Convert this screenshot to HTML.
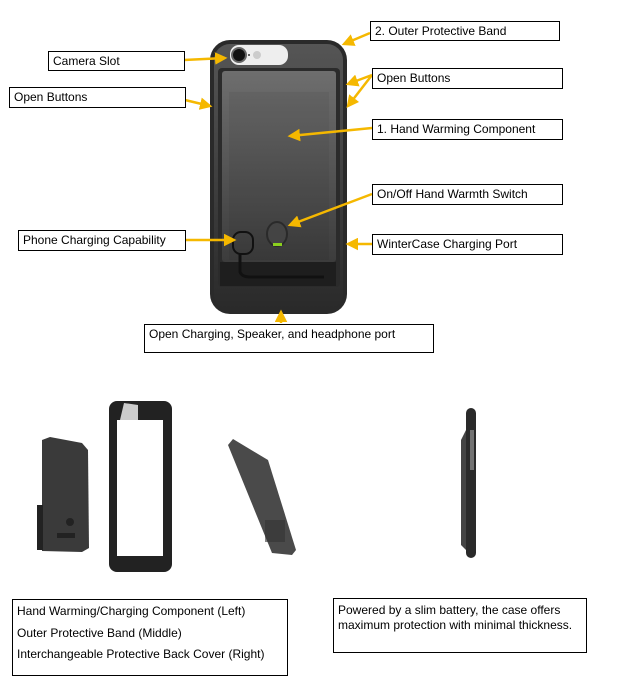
<!DOCTYPE html>
<html><head><meta charset="utf-8"><style>
html,body{margin:0;padding:0;background:#fff;}
body{width:620px;height:675px;position:relative;overflow:hidden;font-family:"Liberation Sans",Arial,sans-serif;font-size:12px;color:#000;}
.b{position:absolute;border:1px solid #000;background:#fff;box-sizing:border-box;padding:2px 4px;line-height:15px;white-space:nowrap;}
svg{position:absolute;left:0;top:0;}
</style></head><body>
<svg width="620" height="675" viewBox="0 0 620 675">
<defs>
<linearGradient id="g1" x1="0" y1="0" x2="0" y2="1"><stop offset="0" stop-color="#6e6e6e"/><stop offset="1" stop-color="#3c3c3c"/></linearGradient>
<linearGradient id="g3" x1="0" y1="0" x2="0" y2="1"><stop offset="0" stop-color="#555"/><stop offset="1" stop-color="#2a2a2a"/></linearGradient>
<marker id="a" markerWidth="5" markerHeight="5" refX="4" refY="2.5" orient="auto" markerUnits="strokeWidth"><path d="M0,0 L5,2.5 L0,5 z" fill="#f5b800"/></marker>
</defs>
<!-- main phone -->
<rect x="210" y="40" width="137" height="274" rx="20" fill="#2a2a2a"/>
<rect x="214" y="44" width="129" height="266" rx="16" fill="url(#g3)"/>
<rect x="218" y="68" width="122" height="219" rx="4" fill="#2b2b2b"/>
<rect x="222" y="71" width="114" height="191" rx="3" fill="url(#g1)"/>
<rect x="229" y="92" width="100" height="168" fill="#000" opacity="0.05"/>
<rect x="220" y="262" width="116" height="24" fill="#1e1e1e"/>
<rect x="230" y="45" width="58" height="20" rx="9" fill="#eee"/>
<circle cx="239" cy="55" r="7" fill="#111" stroke="#666" stroke-width="2"/>
<circle cx="257" cy="55" r="4" fill="#ccc"/>
<circle cx="249" cy="55" r="1" fill="#333"/>
<rect x="233" y="232" width="20" height="22" rx="8" fill="none" stroke="#111" stroke-width="2"/>
<path d="M240,254 L240,272 Q242,277 250,277 L324,277" fill="none" stroke="#111" stroke-width="3"/>
<ellipse cx="277" cy="234" rx="10" ry="12" fill="#444" stroke="#2a2a2a" stroke-width="2"/>
<rect x="273" y="243" width="9" height="3" fill="#8bd11e"/>
<!-- arrows -->
<g stroke="#f5b800" stroke-width="2.5" fill="none" marker-end="url(#a)">
<line x1="184" y1="60" x2="225" y2="58"/>
<line x1="370" y1="33" x2="344" y2="44"/>
<line x1="185" y1="100" x2="210" y2="106"/>
<line x1="372" y1="75" x2="348" y2="84"/>
<line x1="372" y1="75" x2="348" y2="106"/>
<line x1="372" y1="128" x2="290" y2="136"/>
<line x1="372" y1="194" x2="290" y2="225"/>
<line x1="185" y1="240" x2="234" y2="240"/>
<line x1="372" y1="244" x2="348" y2="244"/>
<line x1="281" y1="323" x2="281" y2="312"/>
</g>
<!-- bottom parts -->
<path d="M42,440 L50,437 L82,443 L88,450 L89,548 L82,552 L42,551 Z" fill="#3a3a3a"/>
<rect x="37" y="505" width="6" height="45" fill="#222"/>
<rect x="57" y="533" width="18" height="5" fill="#222"/>
<circle cx="70" cy="522" r="4" fill="#222"/>
<rect x="109" y="401" width="63" height="171" rx="8" fill="#222"/>
<rect x="117" y="420" width="46" height="136" fill="#fff"/>
<path d="M124,403 L138,405 L138,420 L120,420 Z" fill="#ccc"/>
<path d="M228,445 L233,439 L268,460 L296,550 L292,555 L272,553 Z" fill="#4a4a4a"/>
<rect x="265" y="520" width="20" height="22" fill="#333" opacity=".6"/>
<rect x="466" y="408" width="10" height="150" rx="5" fill="#2a2a2a"/>
<path d="M466,430 L461,440 L461,545 L466,550 Z" fill="#444"/>
<rect x="470" y="430" width="4" height="40" fill="#bbb" opacity=".5"/>
</svg>
<div class="b" style="left:48px;top:51px;width:137px;height:20px;">Camera Slot</div>
<div class="b" style="left:370px;top:21px;width:190px;height:20px;">2. Outer Protective Band</div>
<div class="b" style="left:9px;top:87px;width:177px;height:21px;">Open Buttons</div>
<div class="b" style="left:372px;top:68px;width:191px;height:21px;">Open Buttons</div>
<div class="b" style="left:372px;top:119px;width:191px;height:21px;">1. Hand Warming Component</div>
<div class="b" style="left:372px;top:184px;width:191px;height:21px;">On/Off Hand Warmth Switch</div>
<div class="b" style="left:18px;top:230px;width:168px;height:21px;">Phone Charging Capability</div>
<div class="b" style="left:372px;top:234px;width:191px;height:21px;">WinterCase Charging Port</div>
<div class="b" style="left:144px;top:324px;width:290px;height:29px;">Open Charging, Speaker, and headphone port</div>
<div class="b" style="left:12px;top:599px;width:276px;height:77px;line-height:21.5px;padding-top:1px;">Hand Warming/Charging Component (Left)<br>Outer Protective Band (Middle)<br>Interchangeable Protective Back Cover (Right)</div>
<div class="b" style="left:333px;top:598px;width:254px;height:55px;line-height:15px;padding-top:4px;">Powered by a slim battery, the case offers<br>maximum protection with minimal thickness.</div>
</body></html>
